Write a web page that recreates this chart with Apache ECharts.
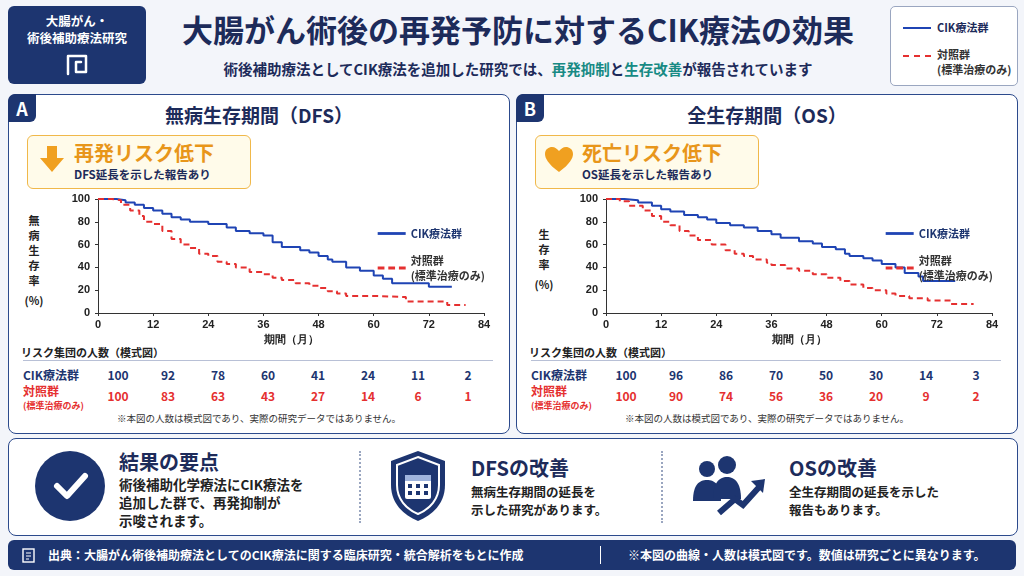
<!DOCTYPE html>
<html>
<head>
<meta charset="utf-8">
<script src="https://cdn.jsdelivr.net/npm/echarts@6/dist/echarts.min.js"></script>
<style>
  body { margin:0; width:1024px; height:576px; background:#f3f5fa; font-family:"Noto Sans CJK JP","Noto Sans",sans-serif; position:relative; overflow:hidden; color:#1d2b5a; }
  .abs { position:absolute; }
  .panel { position:absolute; background:#fff; border:1.5px solid #2c4a8c; border-radius:8px; }
  .tag { position:absolute; left:-1px; top:-1px; width:28px; height:28px; background:#1d3570; color:#fff; font-weight:bold; font-size:18px; text-align:center; line-height:28px; border-radius:7px 0 6px 0; }
  .ptitle { position:absolute; width:100%; text-align:center; top:6px; font-size:19px; font-weight:bold; color:#1d2b5a; }
  .badge { position:absolute; left:18px; top:40px; width:222px; height:52px; background:#fffbea; border:1.5px solid #f0b84a; border-radius:6px; }
  .badge .big { position:absolute; left:46px; top:2px; font-size:20px; font-weight:bold; color:#e8961a; }
  .badge .small { position:absolute; left:46px; top:30px; font-size:11.5px; font-weight:bold; color:#1d2b5a; }
  .ylab { position:absolute; font-size:11px; font-weight:bold; line-height:15px; text-align:center; width:30px; color:#222; }
  .risk { position:absolute; font-size:11px; font-weight:bold; color:#222; }
  .row { position:absolute; left:0; display:flex; }
  .row span { width:50px; text-align:center; font-size:12px; font-weight:bold; }
  .note { position:absolute; width:100%; text-align:center; font-size:9.5px; color:#333; }
</style>
</head>
<body>
<!-- header -->
<div class="abs" style="left:8px;top:6px;width:138px;height:78px;background:#1d3570;border-radius:6px;color:#fff;text-align:center;font-size:12.5px;font-weight:bold;line-height:17px;padding-top:6px;box-sizing:border-box;">大腸がん・<br>術後補助療法研究
  <svg width="30" height="28" viewBox="0 0 30 28" style="display:block;margin:4px auto 0"><path d="M6 24 V6 H24 V22 H14 V12 H19" fill="none" stroke="#fff" stroke-width="2.5" stroke-linecap="round" stroke-linejoin="round"/></svg>
</div>
<div class="abs" style="left:150px;top:6px;width:736px;text-align:center;font-size:31px;font-weight:bold;color:#1d2b5a;">大腸がん術後の再発予防に対するCIK療法の効果</div>
<div class="abs" style="left:150px;top:58px;width:736px;text-align:center;font-size:14.5px;font-weight:bold;color:#1d2b5a;">術後補助療法としてCIK療法を追加した研究では、<span style="color:#178a84">再発抑制</span>と<span style="color:#178a84">生存改善</span>が報告されています</div>
<div class="abs" style="left:890px;top:6px;width:126px;height:78px;background:#fff;border:1px solid #9aa6c0;border-radius:5px;font-size:11px;font-weight:bold;">
  <div class="abs" style="left:12px;top:20px;width:28px;border-top:2.5px solid #1f44b4"></div>
  <div class="abs" style="left:46px;top:12px;color:#1d2b5a">CIK療法群</div>
  <div class="abs" style="left:12px;top:48px;width:28px;border-top:2.5px dashed #e53030"></div>
  <div class="abs" style="left:46px;top:40px;color:#333;line-height:15px">対照群<br>(標準治療のみ)</div>
</div>

<!-- panels -->
<div class="panel" style="left:8px;top:94px;width:500px;height:338px;">
  <div class="tag">A</div>
  <div class="ptitle">無病生存期間（DFS）</div>
  <div class="badge">
    <svg class="abs" style="left:10px;top:8px" width="28" height="30" viewBox="0 0 28 30"><path d="M9 2 H19 V14 H26 L14 28 L2 14 H9 Z" fill="#f0a020"/></svg>
    <div class="big">再発リスク低下</div><div class="small">DFS延長を示した報告あり</div>
  </div>
  <div class="ylab" style="left:10px;top:118px">無<br>病<br>生<br>存<br>率<div style="margin-top:5px">(%)</div></div>
  <div class="risk" style="left:12px;top:249px">リスク集団の人数（模式図）</div>
  <div class="abs" style="left:14px;top:265px;width:470px;border-top:1px solid #b8c0d6"></div>
  <div class="risk" style="left:14px;top:271px;color:#1d3570;font-size:12px">CIK療法群</div>
  <div class="risk" style="left:14px;top:289px;color:#e53030;font-size:12px;line-height:13px">対照群<br><span style="font-size:9px">(標準治療のみ)</span></div>
  <div class="row" id="rA1" style="left:84px;top:271px;color:#1d3570"></div>
  <div class="row" id="rA2" style="left:84px;top:292px;color:#e53030"></div>
  <div class="note" style="top:316px">※本図の人数は模式図であり、実際の研究データではありません。</div>
</div>
<div class="panel" style="left:516px;top:94px;width:500px;height:338px;">
  <div class="tag">B</div>
  <div class="ptitle">全生存期間（OS）</div>
  <div class="badge">
    <svg class="abs" style="left:8px;top:10px" width="30" height="27" viewBox="0 0 30 27"><path d="M15 26 C4 18 1 12 1 8 C1 3 5 1 8 1 C11 1 13 3 15 5 C17 3 19 1 22 1 C25 1 29 3 29 8 C29 12 26 18 15 26Z" fill="#f0a020"/></svg>
    <div class="big">死亡リスク低下</div><div class="small">OS延長を示した報告あり</div>
  </div>
  <div class="ylab" style="left:12px;top:132px">生<br>存<br>率<div style="margin-top:5px">(%)</div></div>
  <div class="risk" style="left:12px;top:249px">リスク集団の人数（模式図）</div>
  <div class="abs" style="left:14px;top:265px;width:470px;border-top:1px solid #b8c0d6"></div>
  <div class="risk" style="left:14px;top:271px;color:#1d3570;font-size:12px">CIK療法群</div>
  <div class="risk" style="left:14px;top:289px;color:#e53030;font-size:12px;line-height:13px">対照群<br><span style="font-size:9px">(標準治療のみ)</span></div>
  <div class="row" id="rB1" style="left:84px;top:271px;color:#1d3570"></div>
  <div class="row" id="rB2" style="left:84px;top:292px;color:#e53030"></div>
  <div class="note" style="top:316px">※本図の人数は模式図であり、実際の研究データではありません。</div>
</div>
<div id="chartA" class="abs" style="left:8px;top:185px;width:500px;height:170px;"></div>
<div id="chartB" class="abs" style="left:516px;top:185px;width:500px;height:170px;"></div>

<!-- summary -->
<div class="panel" style="left:8px;top:438px;width:1008px;height:96px;">
  <div class="abs" style="left:26px;top:12px;width:70px;height:70px;border-radius:50%;background:#1d3570"></div>
  <svg class="abs" style="left:42px;top:30px" width="40" height="34"><path d="M6 17 L16 27 L34 7" fill="none" stroke="#fff" stroke-width="6" stroke-linecap="round" stroke-linejoin="round"/></svg>
  <div class="abs" style="left:110px;top:8px;font-size:20px;font-weight:bold">結果の要点</div>
  <div class="abs" style="left:110px;top:36px;font-size:13.5px;font-weight:bold;line-height:18px;color:#222">術後補助化学療法にCIK療法を<br>追加した群で、再発抑制が<br>示唆されます。</div>
  <div class="abs" style="left:350px;top:12px;height:72px;border-left:2px dotted #9aa6c0"></div>
  <svg class="abs" style="left:378px;top:10px" width="62" height="74" viewBox="0 0 62 74"><path d="M31 2 L58 12 V36 C58 54 46 66 31 72 C16 66 4 54 4 36 V12 Z" fill="#1d3570"/><path d="M31 8 L52 16 V36 C52 50 43 60 31 65 C19 60 10 50 10 36 V16 Z" fill="none" stroke="#fff" stroke-width="2"/><rect x="18" y="26" width="26" height="24" rx="2" fill="#fff"/><rect x="18" y="26" width="26" height="6" fill="#9fb4dd"/><g fill="#1d3570"><rect x="21" y="35" width="4" height="4"/><rect x="29" y="35" width="4" height="4"/><rect x="37" y="35" width="4" height="4"/><rect x="21" y="42" width="4" height="4"/><rect x="29" y="42" width="4" height="4"/><rect x="37" y="42" width="4" height="4"/></g></svg>
  <div class="abs" style="left:462px;top:14px;font-size:20px;font-weight:bold">DFSの改善</div>
  <div class="abs" style="left:462px;top:44px;font-size:12.5px;font-weight:bold;line-height:18px;color:#222">無病生存期間の延長を<br>示した研究があります。</div>
  <div class="abs" style="left:652px;top:12px;height:72px;border-left:2px dotted #9aa6c0"></div>
  <svg class="abs" style="left:680px;top:16px" width="80" height="64" viewBox="0 0 80 64"><g fill="#1d3570"><circle cx="18" cy="14" r="8"/><path d="M4 46 C4 30 10 25 18 25 C26 25 32 30 32 46 Z"/><circle cx="38" cy="10" r="9"/><path d="M24 44 C24 28 30 22 38 22 C46 22 52 28 52 44 Z"/></g><path d="M30 58 L46 44 L54 50 L72 30" fill="none" stroke="#1d3570" stroke-width="6"/><path d="M62 26 L76 24 L74 38 Z" fill="#1d3570"/></svg>
  <div class="abs" style="left:780px;top:14px;font-size:20px;font-weight:bold">OSの改善</div>
  <div class="abs" style="left:780px;top:44px;font-size:12.5px;font-weight:bold;line-height:18px;color:#222">全生存期間の延長を示した<br>報告もあります。</div>
</div>

<!-- footer -->
<div class="abs" style="left:8px;top:540px;width:1008px;height:30px;background:#1d3570;border-radius:6px;color:#fff;font-size:12px;font-weight:bold;">
  <svg class="abs" style="left:14px;top:8px" width="14" height="15"><rect x="1" y="1" width="11" height="13" fill="none" stroke="#fff" stroke-width="1.4"/><path d="M4 5 H9 M4 8 H9 M4 11 H7" stroke="#fff"/></svg>
  <div class="abs" style="left:40px;top:6px">出典：大腸がん術後補助療法としてのCIK療法に関する臨床研究・統合解析をもとに作成</div>
  <div class="abs" style="left:592px;top:6px;height:18px;border-left:1px solid #fff"></div>
  <div class="abs" style="left:620px;top:6px">※本図の曲線・人数は模式図です。数値は研究ごとに異なります。</div>
</div>

<script>
var xTicks = [0, 12, 24, 36, 48, 60, 72, 84];
var dfsCik = [[0,100],[2,100],[4,99],[6,97],[8,95],[10,92],[12,90],[14,87],[16,84],[18,82],[20,80],[24,78],[28,75],[30,72],[33,70],[36,68],[38,62],[40,58],[44,55],[46,53],[48,50],[50,47],[51,45],[54,40],[57,37],[60,33],[62,30],[64,26],[72,23],[77,23]];
var dfsCtrl = [[0,100],[3,99],[5,95],[7,90],[9,85],[10,80],[12,78],[14,72],[16,65],[18,60],[20,57],[22,52],[24,50],[26,45],[28,43],[30,40],[33,36],[36,34],[38,31],[40,29],[43,26],[46,24],[48,22],[50,19],[52,17],[54,15],[60,14],[67,10],[75,10],[76,7],[80,7]];
var osCik = [[0,100],[4,99],[7,97],[10,94],[12,91],[14,89],[17,86],[20,84],[22,82],[24,79],[27,77],[30,75],[33,72],[36,69],[38,66],[42,63],[45,61],[47,58],[50,56],[52,52],[53,50],[56,48],[58,46],[60,43],[63,40],[65,35],[68,32],[69,28],[76,28]];
var osCtrl = [[0,100],[3,98],[5,94],[8,90],[10,85],[12,80],[14,77],[16,72],[18,68],[20,64],[23,60],[26,55],[28,52],[30,50],[32,47],[35,44],[36,42],[39,39],[42,37],[45,34],[48,31],[51,28],[53,25],[56,22],[58,20],[61,17],[63,15],[66,13],[70,11],[75,8],[80,8]];
var riskA1 = [100, 92, 78, 60, 41, 24, 11, 2];
var riskA2 = [100, 83, 63, 43, 27, 14, 6, 1];
var riskB1 = [100, 96, 86, 70, 50, 30, 14, 3];
var riskB2 = [100, 90, 74, 56, 36, 20, 9, 2];

function fillRow(id, vals) {
  var el = document.getElementById(id);
  el.innerHTML = vals.map(function (v) { return '<span>' + v + '</span>'; }).join('');
}
fillRow('rA1', riskA1); fillRow('rA2', riskA2);
fillRow('rB1', riskB1); fillRow('rB2', riskB2);

var solidIcon = 'path://M0,0H30V3H0Z';
var dashIcon = 'path://M0,0H7V3H0Z M11,0H18V3H11Z M22,0H29V3H22Z';

function km(el, cik, ctrl) {
  var c = echarts.init(document.getElementById(el));
  c.setOption({
    animation: false,
    grid: { left: 90, right: 24, top: 14, bottom: 42 },
    legend: {
      right: 18, top: 36, orient: 'vertical', itemWidth: 28, itemHeight: 3, itemGap: 12,
      textStyle: { fontSize: 11, fontWeight: 'bold', color: '#333', fontFamily: 'Noto Sans CJK JP', lineHeight: 15 },
      data: [
        { name: 'CIK療法群', icon: solidIcon, textStyle: { color: '#1d3570' } },
        { name: '対照群\n(標準治療のみ)', icon: dashIcon }
      ]
    },
    xAxis: {
      type: 'value', min: 0, max: 84, interval: 12,
      name: '期間（月）', nameLocation: 'middle', nameGap: 20,
      nameTextStyle: { fontSize: 11, fontWeight: 'bold', color: '#222' },
      axisLine: { lineStyle: { color: '#333' } }, axisTick: { show: true, length: 3 },
      axisLabel: { fontSize: 11, fontWeight: 'bold', color: '#222', margin: 6 },
      splitLine: { show: false }
    },
    yAxis: {
      type: 'value', min: 0, max: 100, interval: 20,
      axisLine: { show: true, lineStyle: { color: '#333' } }, axisTick: { show: true, length: 3 },
      axisLabel: { fontSize: 11, fontWeight: 'bold', color: '#222' },
      splitLine: { show: false }
    },
    series: [
      { name: 'CIK療法群', type: 'line', step: 'end', symbol: 'none', data: cik,
        lineStyle: { color: '#1f44b4', width: 2 }, itemStyle: { color: '#1f44b4' } },
      { name: '対照群\n(標準治療のみ)', type: 'line', step: 'end', symbol: 'none', data: ctrl,
        lineStyle: { color: '#e53030', width: 2, type: [6, 4] }, itemStyle: { color: '#e53030' } }
    ]
  });
}
km('chartA', dfsCik, dfsCtrl);
km('chartB', osCik, osCtrl);
</script>
</body>
</html>
